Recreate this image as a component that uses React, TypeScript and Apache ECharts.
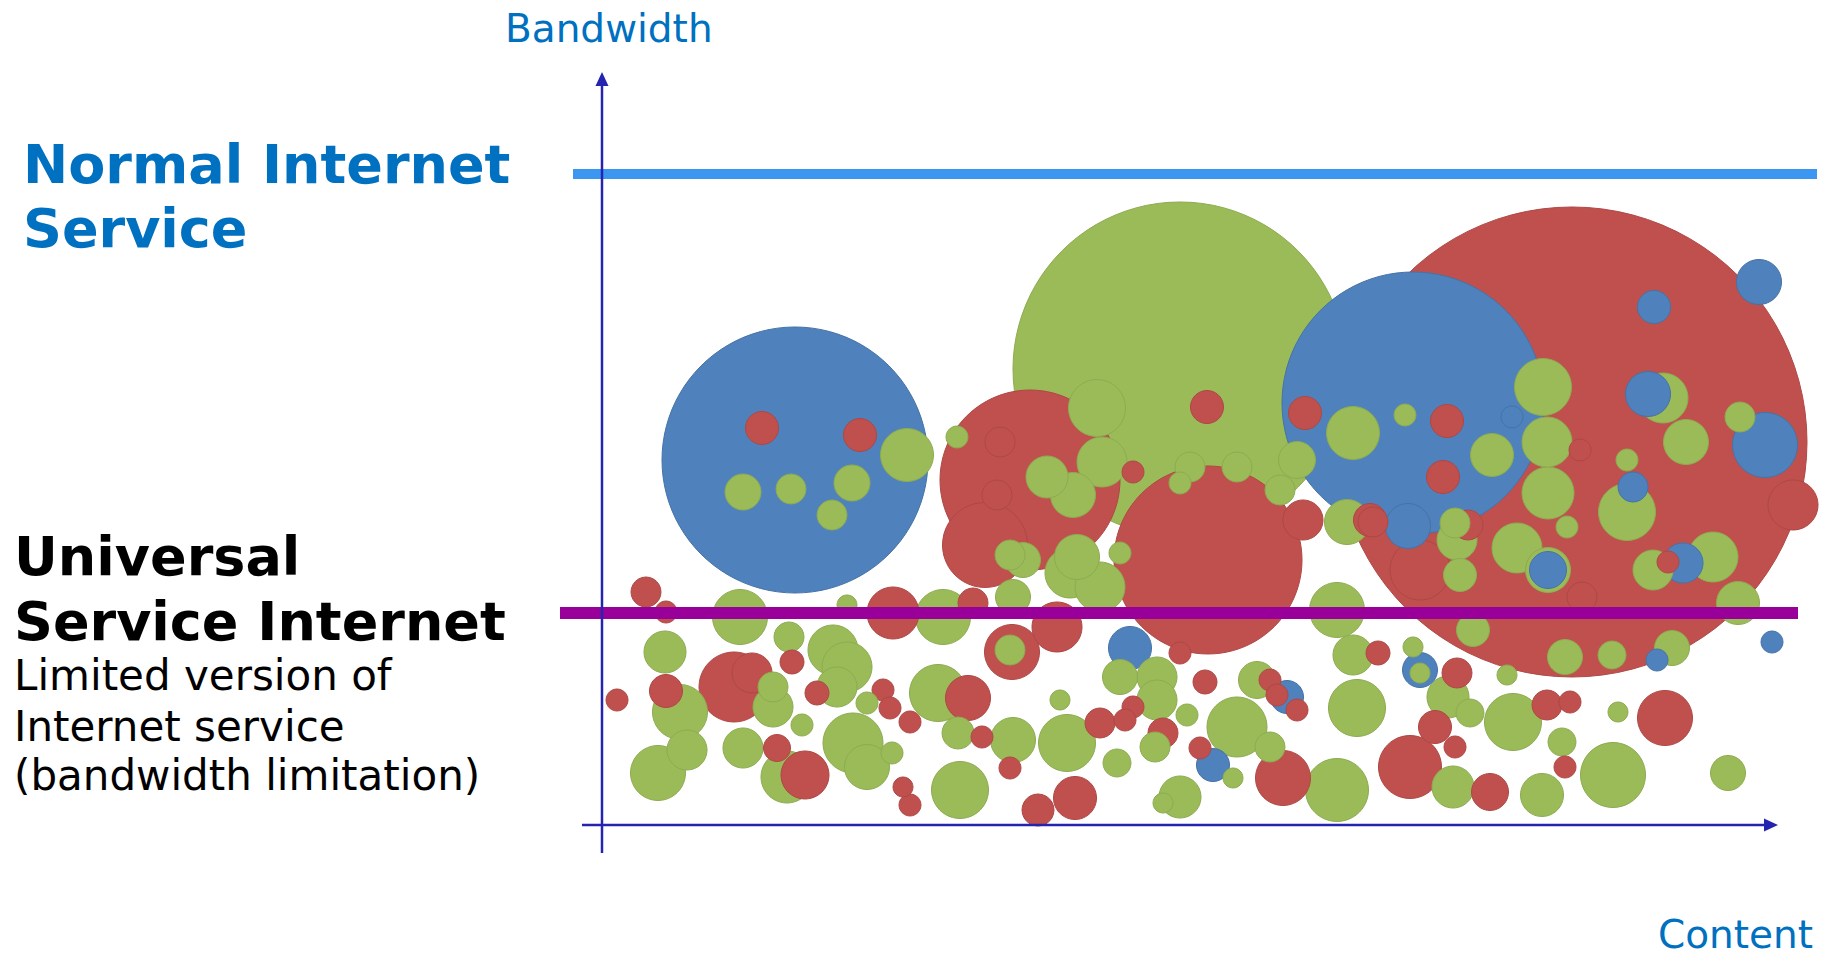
import React, { useEffect, useRef } from "react";
import * as echarts from "echarts";

type Bubble = [number, number, number]; // [content, bandwidth, diameter]

const blueBubbles: Bubble[] = [
  [19.3, 36.5, 266], [81.1, 42.2, 262], [115.7, 54.3, 45], [105.2, 51.8, 33],
  [104.6, 43.1, 45], [116.3, 38.0, 65], [103.1, 33.8, 30], [80.6, 29.9, 45],
  [52.8, 17.7, 43], [68.5, 12.8, 33], [61.1, 6.0, 33], [81.8, 15.5, 35],
  [94.6, 25.5, 37], [108.1, 26.2, 40], [105.5, 16.5, 22], [117.0, 18.3, 22],
  [91.0, 40.8, 22],
];

const redBubbles: Bubble[] = [
  [97.0, 38.3, 470], [60.6, 26.5, 188], [42.8, 34.5, 180], [38.3, 28.0, 85],
  [16.0, 39.7, 33], [25.8, 39.0, 33], [60.5, 41.8, 33], [53.1, 35.3, 22],
  [70.1, 30.5, 40], [70.3, 41.2, 33], [84.5, 40.4, 33], [84.1, 34.8, 33],
  [76.8, 30.5, 33], [119.1, 32.0, 50], [86.6, 30.0, 30], [77.1, 30.3, 30],
  [57.8, 17.2, 22], [60.3, 14.3, 24], [53.1, 11.8, 22], [49.8, 10.2, 30],
  [52.3, 10.5, 22], [40.8, 5.7, 22], [56.1, 9.2, 30], [47.3, 2.7, 43],
  [43.6, 1.5, 32], [66.8, 14.5, 22], [67.5, 13.0, 22], [69.5, 11.5, 22],
  [59.8, 7.7, 22], [68.1, 4.7, 55], [77.6, 17.2, 24], [80.8, 5.8, 63],
  [85.5, 15.2, 30], [94.5, 12.0, 30], [96.8, 12.3, 22], [106.3, 10.7, 55],
  [83.3, 9.8, 33], [85.3, 7.8, 22], [96.3, 5.8, 22], [88.8, 3.3, 37],
  [106.6, 26.3, 22], [81.8, 25.5, 60], [4.4, 23.3, 30], [6.4, 21.3, 22],
  [29.1, 21.2, 52], [37.1, 22.2, 30], [19.0, 16.3, 24], [13.2, 13.8, 70],
  [15.0, 15.2, 40], [6.4, 13.4, 33], [1.5, 12.5, 22], [21.5, 13.2, 24],
  [28.1, 13.5, 22], [28.8, 11.7, 22], [30.8, 10.3, 22], [36.6, 12.7, 45],
  [38.0, 8.8, 22], [17.5, 7.7, 27], [20.3, 5.0, 48], [30.1, 3.8, 20],
  [30.8, 2.0, 22], [41.0, 17.3, 55], [45.5, 19.8, 50], [39.8, 38.3, 30],
  [39.5, 33.0, 30], [97.8, 37.5, 22], [98.0, 22.8, 30],
];

const greenBubbles: Bubble[] = [
  [57.8, 45.6, 334], [30.5, 37.0, 53], [14.1, 33.3, 36], [18.9, 33.6, 30],
  [25.0, 34.2, 36], [23.0, 31.0, 30], [35.5, 38.8, 22], [49.5, 41.7, 57],
  [50.0, 36.3, 50], [44.5, 34.8, 42], [47.1, 33.0, 45], [57.8, 34.2, 22],
  [69.5, 36.5, 37], [67.8, 33.5, 30], [58.8, 35.8, 30], [63.5, 35.8, 30],
  [75.1, 39.2, 53], [80.3, 41.0, 22], [74.5, 30.3, 45], [94.1, 43.8, 57],
  [106.1, 42.7, 50], [113.8, 40.8, 30], [108.4, 38.3, 45], [102.5, 36.5, 22],
  [94.5, 38.3, 50], [94.6, 33.2, 52], [89.0, 37.0, 43], [102.5, 31.3, 57],
  [96.5, 29.8, 22], [85.3, 30.2, 30], [51.8, 27.2, 22], [46.8, 25.2, 50],
  [49.8, 23.8, 50], [41.1, 22.8, 35], [51.8, 14.8, 35], [55.5, 14.8, 40],
  [55.5, 12.5, 40], [45.8, 12.5, 20], [46.5, 8.2, 57], [41.1, 8.5, 45],
  [58.5, 11.0, 22], [55.3, 7.8, 30], [51.5, 6.2, 28], [57.8, 2.8, 42],
  [56.1, 2.2, 20], [65.5, 14.5, 37], [63.5, 9.8, 60], [66.8, 7.8, 30],
  [63.1, 4.7, 20], [73.5, 3.5, 63], [75.1, 17.0, 40], [75.5, 11.7, 57],
  [73.5, 21.5, 55], [81.1, 17.8, 20], [81.8, 15.2, 20], [113.6, 22.2, 43],
  [107.0, 17.7, 35], [101.0, 17.0, 28], [96.3, 16.8, 35], [87.1, 19.5, 33],
  [90.5, 15.0, 20], [84.6, 12.8, 42], [86.8, 11.2, 28], [91.1, 10.3, 57],
  [101.6, 11.3, 20], [96.0, 8.3, 28], [101.1, 5.0, 65], [85.1, 3.8, 42],
  [94.0, 3.0, 43], [112.6, 5.2, 35], [91.5, 27.7, 50], [94.6, 25.5, 45],
  [85.8, 25.0, 33], [111.1, 26.8, 50], [105.1, 25.5, 40], [85.5, 28.5, 40],
  [13.8, 20.8, 55], [24.5, 22.0, 20], [34.1, 20.8, 55], [6.3, 17.3, 42],
  [18.7, 18.8, 30], [23.1, 17.5, 50], [24.5, 15.8, 50], [23.5, 13.8, 40],
  [7.8, 11.3, 55], [17.1, 11.8, 40], [17.1, 13.8, 30], [20.0, 10.0, 22],
  [26.5, 12.2, 22], [33.6, 13.2, 57], [35.6, 9.2, 32], [25.1, 8.2, 60],
  [26.5, 5.8, 45], [29.0, 7.2, 22], [5.6, 5.2, 55], [8.5, 7.5, 40],
  [14.1, 7.7, 40], [18.5, 4.8, 52], [35.8, 3.5, 57], [40.8, 17.5, 30],
  [42.1, 26.5, 35], [47.5, 26.8, 45], [40.8, 27.0, 30],
];

// service levels (bandwidth units) and their horizontal extents (content units)
const normalLevel = 65.1;
const normalExtent = [-2.9, 121.5];
const universalLevel = 21.2;
const universalExtent = [-4.2, 119.6];
const xMax = 120;
const yMax = 75;

const FILL: Record<string, string> = { blue: "#4f81bd", red: "#c0504d", green: "#9bbb59" };
const EDGE: Record<string, string> = { blue: "#4573a6", red: "#ad4845", green: "#8dab51" };

const FONT = "DejaVu Sans";

export default function App() {
  const ref = useRef<HTMLDivElement>(null);

  useEffect(() => {
    const chart = echarts.init(ref.current!, null, { renderer: "svg" });

    const all = [
      ...blueBubbles.map((b) => ({ b, k: "blue" })),
      ...redBubbles.map((b) => ({ b, k: "red" })),
      ...greenBubbles.map((b) => ({ b, k: "green" })),
    ].sort((p, q) => q.b[2] - p.b[2]);

    chart.setOption({
      animation: false,
      grid: { left: 602, top: 75, width: 1200, height: 750, outerBoundsMode: "none" },
      xAxis: { type: "value", min: 0, max: xMax, show: false },
      yAxis: { type: "value", min: 0, max: yMax, show: false },
      series: [
        {
          type: "scatter",
          clip: false,
          silent: true,
          progressive: 0,
          emphasis: { disabled: true },
          symbolSize: (v: number[]) => v[2],
          data: all.map(({ b, k }) => ({
            value: b,
            itemStyle: { color: FILL[k], borderColor: EDGE[k], borderWidth: 1, opacity: 1 },
          })),
        },
      ],
    });

    const px = (x: number, y: number) =>
      chart.convertToPixel({ seriesIndex: 0 }, [x, y]) as number[];

    const nA = px(normalExtent[0], normalLevel);
    const nB = px(normalExtent[1], normalLevel);
    const uA = px(universalExtent[0], universalLevel);
    const uB = px(universalExtent[1], universalLevel);
    const yTop = px(0, 75.3);
    const yBot = px(0, -2.8);
    const xLeft = px(-2.0, 0);
    const xRight = px(117.6, 0);

    const axisColor = "#2424b0";
    const txt = (text: string, x: number, baseline: number, size: number, weight: string, fill: string) => ({
      type: "text",
      x,
      y: baseline - 0.346 * size,
      z: 100,
      silent: true,
      style: {
        text,
        fontSize: size,
        fontFamily: FONT,
        fontWeight: weight,
        fill,
        align: "left",
        verticalAlign: "middle",
        lineHeight: Math.round(size * 0.8),
      },
    });

    chart.setOption({
      graphic: [
        {
          type: "line", z: 100, silent: true,
          shape: { x1: nA[0], y1: nA[1], x2: nB[0], y2: nB[1] },
          style: { stroke: "#3a96f0", lineWidth: 10 },
        },
        {
          type: "line", z: 100, silent: true,
          shape: { x1: uA[0], y1: uA[1], x2: uB[0], y2: uB[1] },
          style: { stroke: "#990099", lineWidth: 12 },
        },
        {
          type: "line", z: 101, silent: true,
          shape: { x1: yBot[0], y1: yBot[1], x2: yTop[0], y2: yTop[1] + 12 },
          style: { stroke: axisColor, lineWidth: 2.5 },
        },
        {
          type: "polygon", z: 101, silent: true,
          shape: { points: [[yTop[0], yTop[1]], [yTop[0] - 6.5, yTop[1] + 14], [yTop[0] + 6.5, yTop[1] + 14]] },
          style: { fill: axisColor },
        },
        {
          type: "line", z: 101, silent: true,
          shape: { x1: xLeft[0], y1: xLeft[1], x2: xRight[0] - 12, y2: xRight[1] },
          style: { stroke: axisColor, lineWidth: 2.5 },
        },
        {
          type: "polygon", z: 101, silent: true,
          shape: { points: [[xRight[0], xRight[1]], [xRight[0] - 14, xRight[1] - 6.5], [xRight[0] - 14, xRight[1] + 6.5]] },
          style: { fill: axisColor },
        },
        txt("Bandwidth", 505, 42, 39, "normal", "#0070c0"),
        txt("Content", 1658, 948, 39, "normal", "#0070c0"),
        txt("Normal Internet", 23, 183, 54, "bold", "#0070c0"),
        txt("Service", 23, 247, 54, "bold", "#0070c0"),
        txt("Universal", 14, 575, 54, "bold", "#000000"),
        txt("Service Internet", 14, 640, 54, "bold", "#000000"),
        txt("Limited version of", 14, 690, 42, "normal", "#000000"),
        txt("Internet service", 14, 741, 42, "normal", "#000000"),
        txt("(bandwidth limitation)", 14, 790, 42, "normal", "#000000"),
      ],
    });

    return () => chart.dispose();
  }, []);

  return (
    <div
      ref={ref}
      style={{ position: "fixed", left: 0, top: 0, width: "1829px", height: "958px", background: "#ffffff" }}
    />
  );
}
